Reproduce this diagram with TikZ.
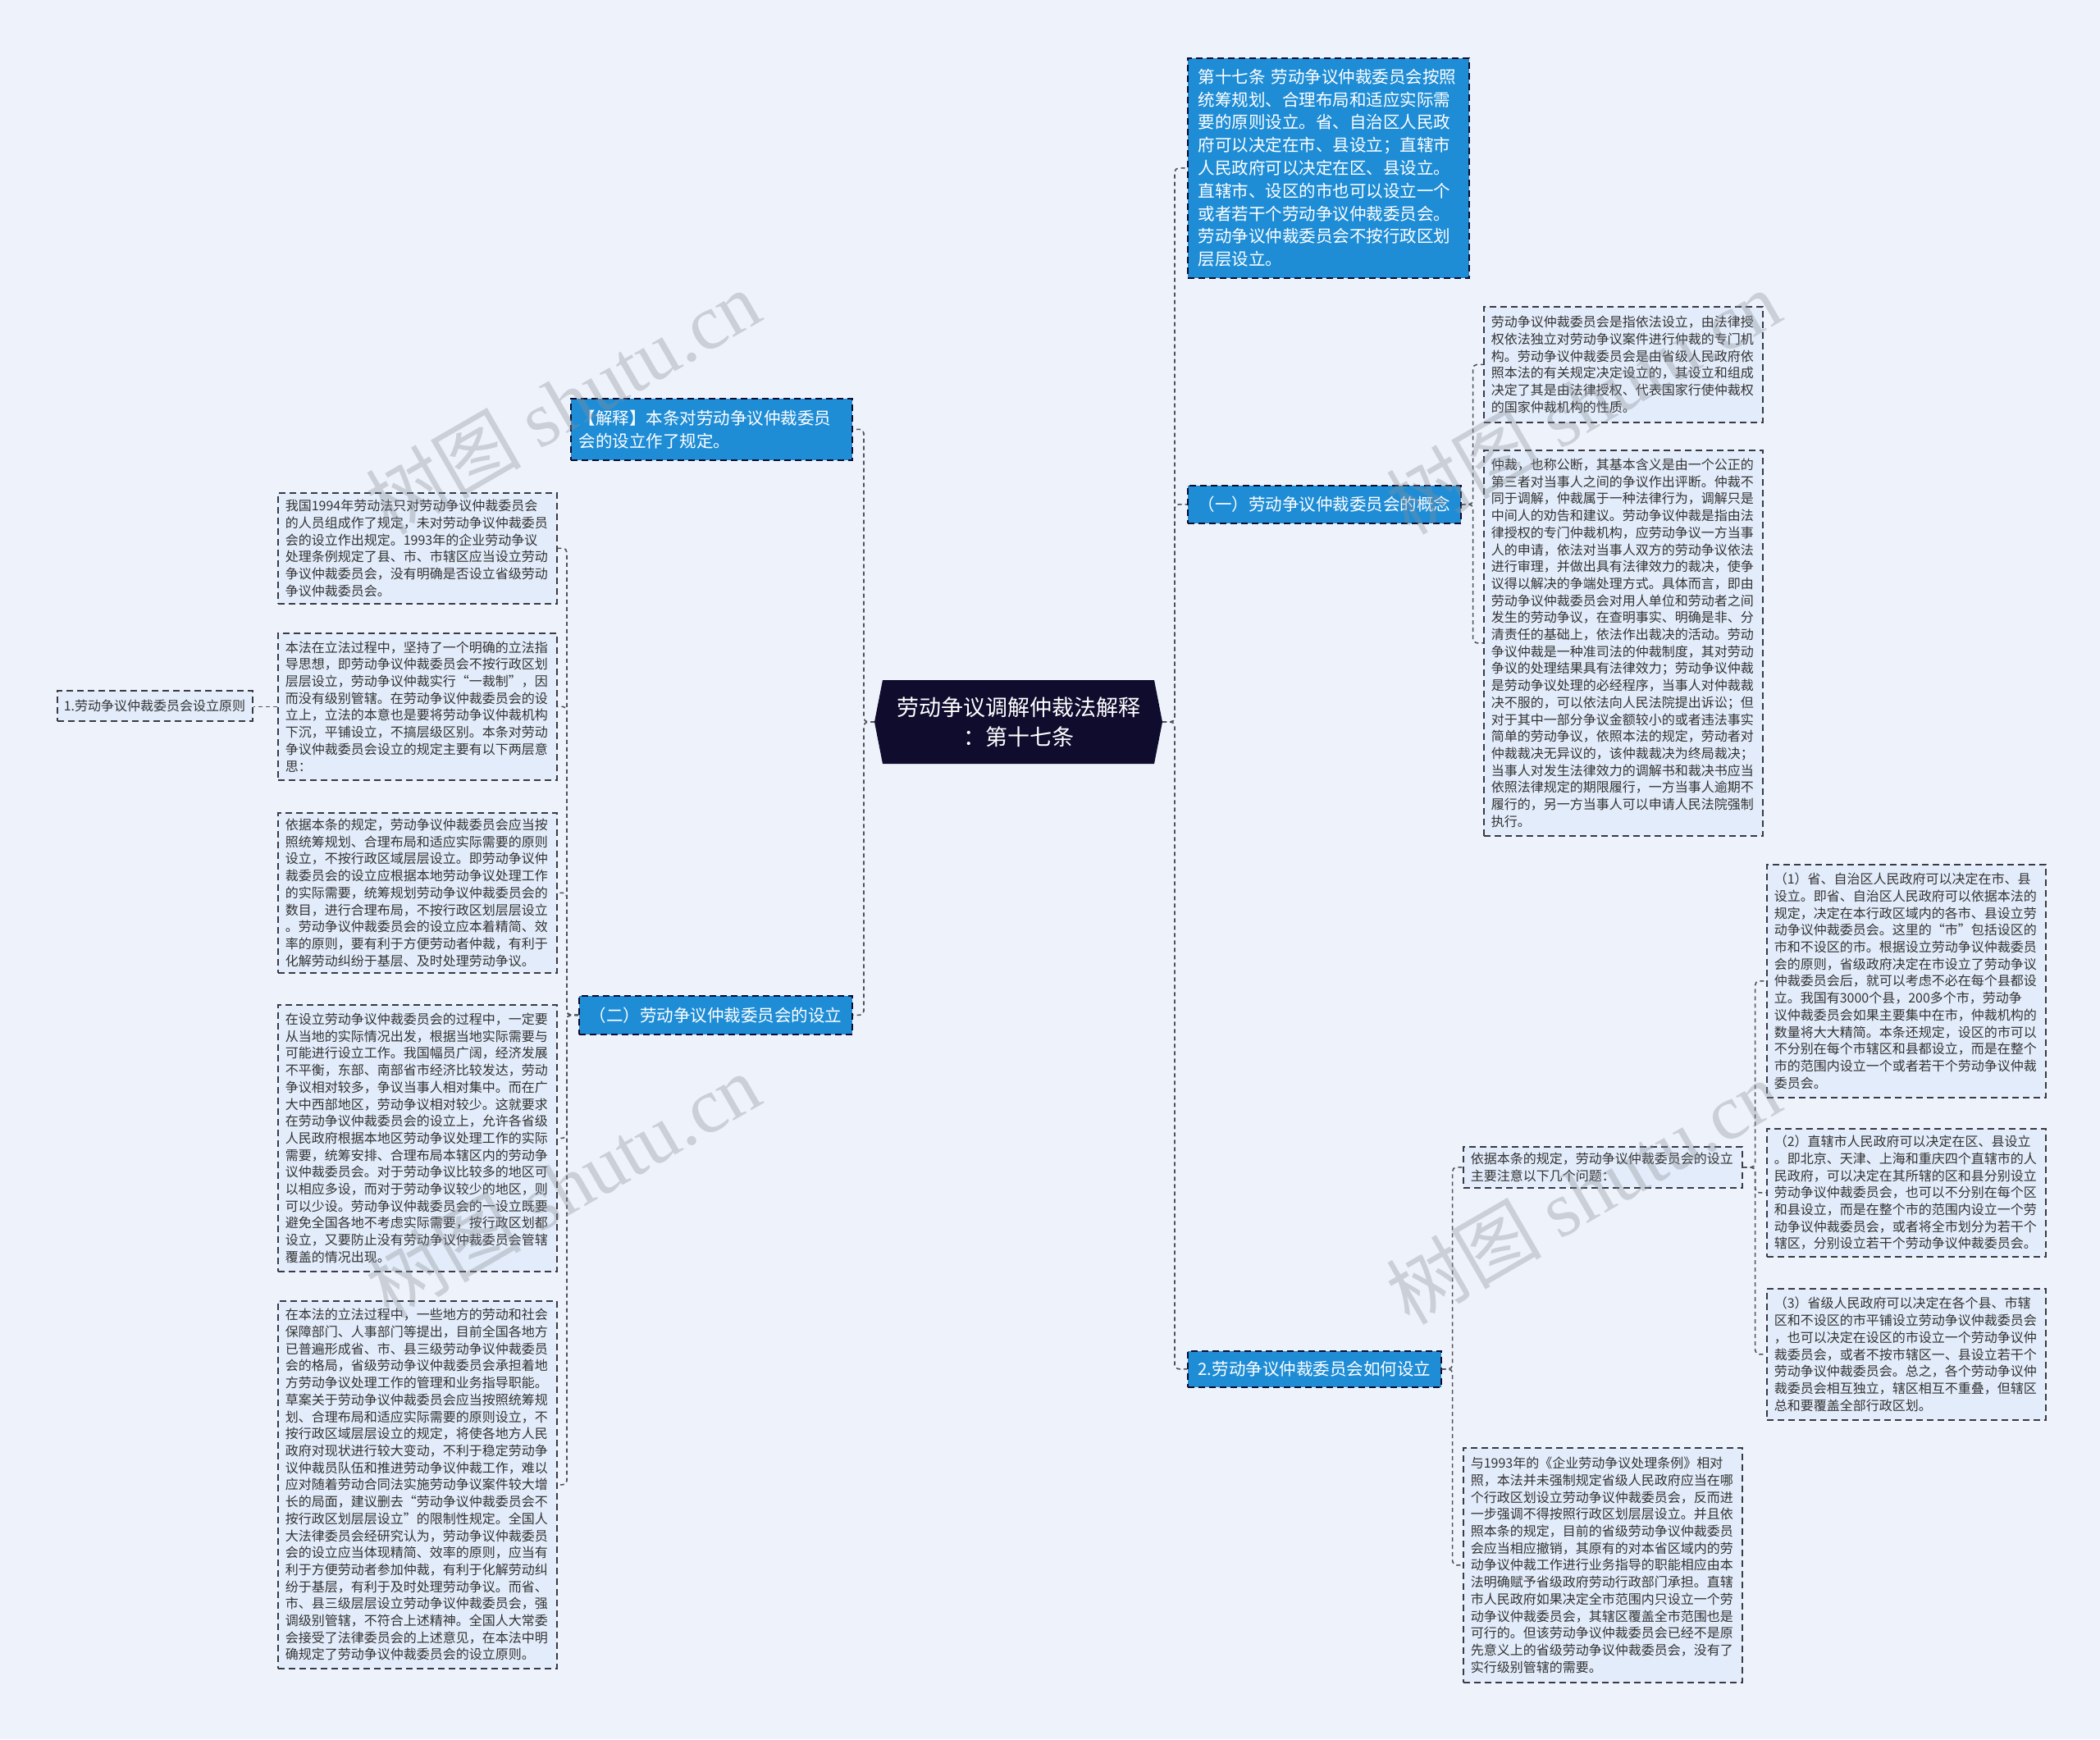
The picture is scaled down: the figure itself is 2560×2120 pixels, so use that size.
\documentclass[tikz,border=0pt]{standalone}
\usepackage{fontspec}
\newfontfamily\cjk{Noto Sans CJK SC}
\newfontfamily\wmserif{Liberation Serif}
\usetikzlibrary{backgrounds}
\definecolor{bg}{HTML}{EEF3FB}
\definecolor{lfill}{HTML}{E3ECFA}
\definecolor{bfill}{HTML}{1F8DD6}
\definecolor{navy}{HTML}{0F0C2E}
\definecolor{edge}{HTML}{3A3A44}
\definecolor{ltext}{HTML}{333333}
\definecolor{connc}{HTML}{50505A}
\definecolor{wmc}{HTML}{8A8E96}
\begin{document}
\begin{tikzpicture}[x=1bp,y=-1bp,
  conn/.style={draw=connc, line width=1.6bp, dash pattern=on 5bp off 4bp, rounded corners=5bp},
  lbox/.style={draw=edge, line width=1.6bp, dash pattern=on 8bp off 5bp, fill=lfill, text=ltext,
    anchor=north west, inner xsep=9bp, inner ysep=1bp, align=left,
    font=\cjk\fontsize{16bp}{20.7bp}\selectfont, minimum width=340bp, text width=322bp},
  bbox/.style={draw=navy, line width=1.6bp, dash pattern=on 8bp off 5bp, fill=bfill, text=white,
    anchor=north west, inner xsep=12bp, inner ysep=1bp, align=left,
    font=\cjk\fontsize{20.5bp}{27.8bp}\selectfont},
  wm/.style={text=wmc, opacity=0.35, rotate=30, font=\fontsize{95bp}{100bp}\selectfont}
]
\useasboundingbox (0,0) rectangle (2560,2120);

% centre
\node[text=white, align=center, inner sep=0, minimum width=331bp, minimum height=102bp,
  font=\cjk\fontsize{27bp}{36bp}\selectfont] (c) at (1241.5,880) {劳动争议调解仲裁法解释\\：第十七条};
\coordinate (cL) at (1066,880);
\coordinate (cR) at (1417,880);

\begin{scope}[on background layer]
  \fill[bg] (0,0) rectangle (2560,2120);
  \fill[navy] (cL) -- (1076,829) -- (1407,829) -- (cR) -- (1407,931) -- (1076,931) -- cycle;
\end{scope}

% right blue nodes
\node[bbox, text width=317bp, minimum height=268bp, inner xsep=13bp] (t1) at (1447,70)
{第十七条 劳动争议仲裁委员会按照\\统筹规划、合理布局和适应实际需\\要的原则设立。省、自治区人民政\\府可以决定在市、县设立；直辖市\\人民政府可以决定在区、县设立。\\直辖市、设区的市也可以设立一个\\或者若干个劳动争议仲裁委员会。\\劳动争议仲裁委员会不按行政区划\\层层设立。};
\node[bbox, minimum width=333bp, minimum height=46bp, inner xsep=11bp] (n1) at (1447,591) {（一）劳动争议仲裁委员会的概念};
\node[bbox, minimum width=309bp, minimum height=44bp, inner xsep=11bp] (n2) at (1447,1646) {2.劳动争议仲裁委员会如何设立};

% left blue nodes
\node[bbox, text width=323bp, minimum height=75bp, inner xsep=10bp] (jie) at (695,485) {【解释】本条对劳动争议仲裁委员\\会的设立作了规定。};
\node[bbox, minimum width=333bp, minimum height=47bp, inner xsep=11bp] (n3) at (705,1213) {（二）劳动争议仲裁委员会的设立};

% right light boxes
\node[lbox, minimum height=141bp] (r1) at (1808,373)
{劳动争议仲裁委员会是指依法设立，由法律授\\权依法独立对劳动争议案件进行仲裁的专门机\\构。劳动争议仲裁委员会是由省级人民政府依\\照本法的有关规定决定设立的，其设立和组成\\决定了其是由法律授权、代表国家行使仲裁权\\的国家仲裁机构的性质。};
\node[lbox, minimum height=470bp] (r2) at (1808,548)
{仲裁，也称公断，其基本含义是由一个公正的\\第三者对当事人之间的争议作出评断。仲裁不\\同于调解，仲裁属于一种法律行为，调解只是\\中间人的劝告和建议。劳动争议仲裁是指由法\\律授权的专门仲裁机构，应劳动争议一方当事\\人的申请，依法对当事人双方的劳动争议依法\\进行审理，并做出具有法律效力的裁决，使争\\议得以解决的争端处理方式。具体而言，即由\\劳动争议仲裁委员会对用人单位和劳动者之间\\发生的劳动争议，在查明事实、明确是非、分\\清责任的基础上，依法作出裁决的活动。劳动\\争议仲裁是一种准司法的仲裁制度，其对劳动\\争议的处理结果具有法律效力；劳动争议仲裁\\是劳动争议处理的必经程序，当事人对仲裁裁\\决不服的，可以依法向人民法院提出诉讼；但\\对于其中一部分争议金额较小的或者违法事实\\简单的劳动争议，依照本法的规定，劳动者对\\仲裁裁决无异议的，该仲裁裁决为终局裁决；\\当事人对发生法律效力的调解书和裁决书应当\\依照法律规定的期限履行，一方当事人逾期不\\履行的，另一方当事人可以申请人民法院强制\\执行。};
\node[lbox, minimum height=50bp] (y) at (1783,1397)
{依据本条的规定，劳动争议仲裁委员会的设立\\主要注意以下几个问题：};
\node[lbox, minimum height=286bp] (b) at (1783,1764)
{与1993年的《企业劳动争议处理条例》相对\\照，本法并未强制规定省级人民政府应当在哪\\个行政区划设立劳动争议仲裁委员会，反而进\\一步强调不得按照行政区划层层设立。并且依\\照本条的规定，目前的省级劳动争议仲裁委员\\会应当相应撤销，其原有的对本省区域内的劳\\动争议仲裁工作进行业务指导的职能相应由本\\法明确赋予省级政府劳动行政部门承担。直辖\\市人民政府如果决定全市范围内只设立一个劳\\动争议仲裁委员会，其辖区覆盖全市范围也是\\可行的。但该劳动争议仲裁委员会已经不是原\\先意义上的省级劳动争议仲裁委员会，没有了\\实行级别管辖的需要。};
\node[lbox, minimum height=284bp] (f1) at (2153,1053)
{（1）省、自治区人民政府可以决定在市、县\\设立。即省、自治区人民政府可以依据本法的\\规定，决定在本行政区域内的各市、县设立劳\\动争议仲裁委员会。这里的“市”包括设区的\\市和不设区的市。根据设立劳动争议仲裁委员\\会的原则，省级政府决定在市设立了劳动争议\\仲裁委员会后，就可以考虑不必在每个县都设\\立。我国有3000个县，200多个市，劳动争\\议仲裁委员会如果主要集中在市，仲裁机构的\\数量将大大精简。本条还规定，设区的市可以\\不分别在每个市辖区和县都设立，而是在整个\\市的范围内设立一个或者若干个劳动争议仲裁\\委员会。};
\node[lbox, minimum height=156bp] (f2) at (2153,1375)
{（2）直辖市人民政府可以决定在区、县设立\\。即北京、天津、上海和重庆四个直辖市的人\\民政府，可以决定在其所辖的区和县分别设立\\劳动争议仲裁委员会，也可以不分别在每个区\\和县设立，而是在整个市的范围内设立一个劳\\动争议仲裁委员会，或者将全市划分为若干个\\辖区，分别设立若干个劳动争议仲裁委员会。};
\node[lbox, minimum height=160bp] (f3) at (2153,1570)
{（3）省级人民政府可以决定在各个县、市辖\\区和不设区的市平铺设立劳动争议仲裁委员会\\，也可以决定在设区的市设立一个劳动争议仲\\裁委员会，或者不按市辖区一、县设立若干个\\劳动争议仲裁委员会。总之，各个劳动争议仲\\裁委员会相互独立，辖区相互不重叠，但辖区\\总和要覆盖全部行政区划。};

% left light boxes
\node[lbox, minimum height=135bp] (l1) at (338,600)
{我国1994年劳动法只对劳动争议仲裁委员会\\的人员组成作了规定，未对劳动争议仲裁委员\\会的设立作出规定。1993年的企业劳动争议\\处理条例规定了县、市、市辖区应当设立劳动\\争议仲裁委员会，没有明确是否设立省级劳动\\争议仲裁委员会。};
\node[lbox, minimum height=179bp] (l2) at (338,771)
{本法在立法过程中，坚持了一个明确的立法指\\导思想，即劳动争议仲裁委员会不按行政区划\\层层设立，劳动争议仲裁实行“一裁制”，因\\而没有级别管辖。在劳动争议仲裁委员会的设\\立上，立法的本意也是要将劳动争议仲裁机构\\下沉，平铺设立，不搞层级区别。本条对劳动\\争议仲裁委员会设立的规定主要有以下两层意\\思：};
\node[lbox, minimum height=195bp] (l3) at (338,990)
{依据本条的规定，劳动争议仲裁委员会应当按\\照统筹规划、合理布局和适应实际需要的原则\\设立，不按行政区域层层设立。即劳动争议仲\\裁委员会的设立应根据本地劳动争议处理工作\\的实际需要，统筹规划劳动争议仲裁委员会的\\数目，进行合理布局，不按行政区划层层设立\\。劳动争议仲裁委员会的设立应本着精简、效\\率的原则，要有利于方便劳动者仲裁，有利于\\化解劳动纠纷于基层、及时处理劳动争议。};
\node[lbox, minimum height=325bp] (l4) at (338,1224)
{在设立劳动争议仲裁委员会的过程中，一定要\\从当地的实际情况出发，根据当地实际需要与\\可能进行设立工作。我国幅员广阔，经济发展\\不平衡，东部、南部省市经济比较发达，劳动\\争议相对较多，争议当事人相对集中。而在广\\大中西部地区，劳动争议相对较少。这就要求\\在劳动争议仲裁委员会的设立上，允许各省级\\人民政府根据本地区劳动争议处理工作的实际\\需要，统筹安排、合理布局本辖区内的劳动争\\议仲裁委员会。对于劳动争议比较多的地区可\\以相应多设，而对于劳动争议较少的地区，则\\可以少设。劳动争议仲裁委员会的一设立既要\\避免全国各地不考虑实际需要，按行政区划都\\设立，又要防止没有劳动争议仲裁委员会管辖\\覆盖的情况出现。};
\node[lbox, minimum height=448bp] (l5) at (338,1585)
{在本法的立法过程中，一些地方的劳动和社会\\保障部门、人事部门等提出，目前全国各地方\\已普遍形成省、市、县三级劳动争议仲裁委员\\会的格局，省级劳动争议仲裁委员会承担着地\\方劳动争议处理工作的管理和业务指导职能。\\草案关于劳动争议仲裁委员会应当按照统筹规\\划、合理布局和适应实际需要的原则设立，不\\按行政区域层层设立的规定，将使各地方人民\\政府对现状进行较大变动，不利于稳定劳动争\\议仲裁员队伍和推进劳动争议仲裁工作，难以\\应对随着劳动合同法实施劳动争议案件较大增\\长的局面，建议删去“劳动争议仲裁委员会不\\按行政区划层层设立”的限制性规定。全国人\\大法律委员会经研究认为，劳动争议仲裁委员\\会的设立应当体现精简、效率的原则，应当有\\利于方便劳动者参加仲裁，有利于化解劳动纠\\纷于基层，有利于及时处理劳动争议。而省、\\市、县三级层层设立劳动争议仲裁委员会，强\\调级别管辖，不符合上述精神。全国人大常委\\会接受了法律委员会的上述意见，在本法中明\\确规定了劳动争议仲裁委员会的设立原则。};
\node[lbox, minimum width=238bp, text width=222bp, inner xsep=8bp, minimum height=37bp] (p1) at (69,841)
{1.劳动争议仲裁委员会设立原则};

% connectors
\draw[conn] (cR) -- ++(15,0) |- (t1.west);
\draw[conn] (cR) -- ++(15,0) |- (n1.west);
\draw[conn] (cR) -- ++(15,0) |- (n2.west);
\draw[conn] (cL) -- ++(-13,0) |- (jie.east);
\draw[conn] (cL) -- ++(-13,0) |- (n3.east);
\draw[conn] (n1.east) -- ++(14,0) |- (r1.west);
\draw[conn] (n1.east) -- ++(14,0) |- (r2.west);
\draw[conn] (n2.east) -- ++(13,0) |- (y.west);
\draw[conn] (n2.east) -- ++(13,0) |- (b.west);
\draw[conn] (y.east) -- ++(15,0) |- (f1.west);
\draw[conn] (y.east) -- ++(15,0) |- (f2.west);
\draw[conn] (y.east) -- ++(15,0) |- (f3.west);
\draw[conn] (n3.west) -- ++(-14,0) |- (l1.east);
\draw[conn] (n3.west) -- ++(-14,0) |- (l2.east);
\draw[conn] (n3.west) -- ++(-14,0) |- (l3.east);
\draw[conn] (n3.west) -- ++(-14,0) |- (l4.east);
\draw[conn] (n3.west) -- ++(-14,0) |- (l5.east);
\draw[conn] (l2.west) -- (l2.west -| p1.east);

% watermarks
\node[wm] (w1) at (686,490) {\cjk 树图 \wmserif shutu.cn};
\node[wm] (w2) at (1930,490) {\cjk 树图 \wmserif shutu.cn};
\node[wm] (w3) at (686,1445) {\cjk 树图 \wmserif shutu.cn};
\node[wm] (w4) at (1930,1453) {\cjk 树图 \wmserif shutu.cn};
\end{tikzpicture}
\end{document}
